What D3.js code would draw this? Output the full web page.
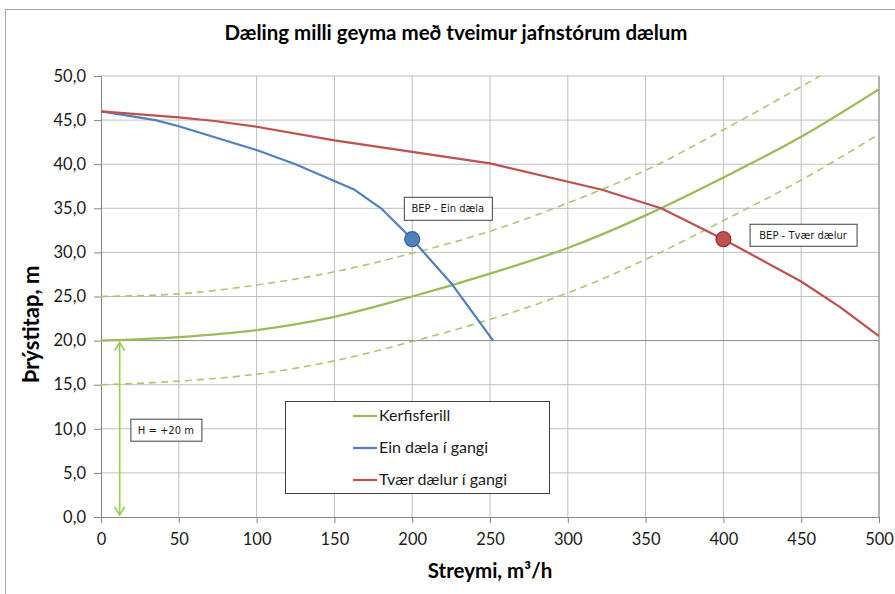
<!DOCTYPE html>
<html>
<head>
<meta charset="utf-8">
<script src="https://cdn.jsdelivr.net/npm/d3@7"></script>
<style>
  html, body { margin: 0; padding: 0; background: #fff; }
  svg { display: block; font-family: Lato, "Open Sans", sans-serif; }
</style>
</head>
<body>
<svg id="chart" width="895" height="594"></svg>
<script>
// Kerfisferill (system curve) with its +/- 5 m band, read at every 50 m3/h
const flowGrid = [0, 50, 100, 150, 200, 250, 300, 350, 400, 450, 500];
const kerfisferill = [20, 20.4, 21.2, 22.7, 25.0, 27.6, 30.5, 34.2, 38.5, 43.1, 48.5];
const kerfisEfri  = [25, 25.3, 26.3, 27.8, 29.9, 32.4, 35.6, 39.3, 43.9, 48.8, 53.8];
const kerfisNedri = [15, 15.4, 16.2, 17.7, 19.9, 22.4, 25.4, 29.2, 33.6, 38.2, 43.4];

// Pump curves
const einQ = [0, 35, 50, 100, 125, 150, 163, 180, 200, 226, 252];
const einH = [46, 45, 44.3, 41.6, 40, 38.1, 37.1, 35, 31.5, 26.3, 20];
const tvaerQ = [0, 50, 73, 100, 150, 200, 250, 322, 360, 400, 450, 475, 500];
const tvaerH = [46, 45.3, 44.9, 44.25, 42.7, 41.4, 40.1, 37.1, 35, 31.5, 26.7, 23.8, 20.5];

// Best efficiency points
const bepEin = { q: 200, h: 31.5, label: "BEP - Ein dæla" };
const bepTvaer = { q: 400, h: 31.5, label: "BEP - Tvær dælur" };

// Static head annotation
const stodhaed = { q: 12, from: 20, to: 0, label: "H = +20 m" };

const xTicks = [0, 50, 100, 150, 200, 250, 300, 350, 400, 450, 500];
const yTicks = [0, 5, 10, 15, 20, 25, 30, 35, 40, 45, 50];

const legendItems = ["Kerfisferill", "Ein dæla í gangi", "Tvær dælur í gangi"];
const colors = { kerfi: "#9bbb59", kerfiDash: "#a9c873", ein: "#4f81bd", tvaer: "#c0504d", arrow: "#92d050" };

const svg = d3.select("#chart");
const W = 895, H = 594;
const plot = { left: 101, right: 879, top: 76, bottom: 517 };

const x = d3.scaleLinear().domain([0, 500]).range([plot.left, plot.right]);
const y = d3.scaleLinear().domain([0, 50]).range([plot.bottom, plot.top]);

// outer chart frame
svg.append("rect").attr("x", 5.5).attr("y", 9.5).attr("width", W + 10).attr("height", H + 10)
  .attr("fill", "none").attr("stroke", "#a6a6a6");

// title
svg.append("text").attr("x", 456).attr("y", 40).attr("text-anchor", "middle")
  .attr("font-size", 20.5).attr("font-weight", "bold").attr("fill", "#000")
  .text("Dæling milli geyma með tveimur jafnstórum dælum");

// gridlines
const grid = svg.append("g");
grid.selectAll("line.v").data(xTicks.slice(1)).join("line")
  .attr("x1", d => x(d)).attr("x2", d => x(d)).attr("y1", plot.top).attr("y2", plot.bottom)
  .attr("stroke", "#bfbfbf").attr("stroke-width", 1);
grid.selectAll("line.h").data(yTicks.slice(1)).join("line")
  .attr("x1", plot.left).attr("x2", plot.right).attr("y1", d => y(d)).attr("y2", d => y(d))
  .attr("stroke", d => d === 20 ? "#8c8c8c" : "#bfbfbf").attr("stroke-width", 1);

// axes
const fmtY = d => d3.format(".1f")(d).replace(".", ",");
const yAxis = svg.append("g").attr("transform", `translate(${plot.left},0)`)
  .call(d3.axisLeft(y).tickValues(yTicks).tickFormat(fmtY).tickSizeOuter(0).tickSize(7).tickPadding(8));
const xAxis = svg.append("g").attr("transform", `translate(0,${plot.bottom})`)
  .call(d3.axisBottom(x).tickValues(xTicks).tickSizeOuter(0).tickSize(6).tickPadding(10));
[yAxis, xAxis].forEach(a => {
  a.select(".domain").attr("stroke", "#868686");
  a.selectAll(".tick line").attr("stroke", "#868686");
  a.selectAll(".tick text").attr("font-size", 16.5).attr("fill", "#1a1a1a")
    .attr("font-family", "Lato, sans-serif");
});

// right plot border
svg.append("line").attr("x1", plot.right).attr("x2", plot.right).attr("y1", plot.top).attr("y2", plot.bottom)
  .attr("stroke", "#868686");

// axis titles
svg.append("text").attr("x", 490).attr("y", 578).attr("text-anchor", "middle")
  .attr("font-size", 20.5).attr("font-weight", "bold")
  .text("Streymi, m³/h");
svg.append("text").attr("transform", `translate(39,${(plot.top + plot.bottom) / 2 + 28}) rotate(-90)`)
  .attr("text-anchor", "middle").attr("font-size", 22).attr("font-weight", "bold")
  .text("Þrýstitap, m");

// clip for series
svg.append("clipPath").attr("id", "plotClip").append("rect")
  .attr("x", plot.left).attr("y", plot.top).attr("width", plot.right - plot.left).attr("height", plot.bottom - plot.top);

const line = d3.line().x(d => x(d[0])).y(d => y(d[1]));
const smooth = d3.line().x(d => x(d[0])).y(d => y(d[1])).curve(d3.curveMonotoneX);
const series = svg.append("g").attr("clip-path", "url(#plotClip)");

const zipQ = (qs, hs) => qs.map((q, i) => [q, hs[i]]);

series.append("path").datum(zipQ(flowGrid, kerfisEfri)).attr("d", smooth)
  .attr("fill", "none").attr("stroke", colors.kerfiDash).attr("stroke-width", 1.6).attr("stroke-dasharray", "7,5");
series.append("path").datum(zipQ(flowGrid, kerfisNedri)).attr("d", smooth)
  .attr("fill", "none").attr("stroke", colors.kerfiDash).attr("stroke-width", 1.6).attr("stroke-dasharray", "7,5");
series.append("path").datum(zipQ(flowGrid, kerfisferill)).attr("d", smooth)
  .attr("fill", "none").attr("stroke", colors.kerfi).attr("stroke-width", 2.3);
series.append("path").datum(zipQ(einQ, einH)).attr("d", line)
  .attr("fill", "none").attr("stroke", colors.ein).attr("stroke-width", 2.2).attr("stroke-linejoin", "round");
series.append("path").datum(zipQ(tvaerQ, tvaerH)).attr("d", line)
  .attr("fill", "none").attr("stroke", colors.tvaer).attr("stroke-width", 2.2).attr("stroke-linejoin", "round");

// BEP markers
[[bepEin, colors.ein, "#37608f"], [bepTvaer, colors.tvaer, "#8f3532"]].forEach(([p, fill, stroke]) => {
  svg.append("circle").attr("cx", x(p.q)).attr("cy", y(p.h)).attr("r", 7.5)
    .attr("fill", fill).attr("stroke", stroke).attr("stroke-width", 1.2);
});

// boxed annotation labels
function boxLabel(cx, cy, text, w, h) {
  const g = svg.append("g");
  g.append("rect").attr("x", cx - w / 2 + 0.5).attr("y", cy - h / 2 + 0.5).attr("width", w).attr("height", h)
    .attr("fill", "#fff").attr("stroke", "#404040").attr("stroke-width", 1);
  g.append("text").attr("x", cx).attr("y", cy + 4).attr("text-anchor", "middle")
    .attr("font-family", "'DejaVu Sans', Verdana, sans-serif").attr("font-size", 10).attr("fill", "#1a1a1a")
    .text(text);
}
boxLabel(x(bepEin.q + 22.9), y(bepEin.h + 3.5), bepEin.label, 88, 23);
boxLabel(x(bepTvaer.q + 51.2), y(bepTvaer.h + 0.5), bepTvaer.label, 107, 22);

// static head arrow
const ax = x(stodhaed.q), aTop = y(stodhaed.from) + 2, aBot = y(stodhaed.to) - 2;
const arrow = svg.append("g").attr("stroke", colors.arrow).attr("stroke-width", 1.6).attr("fill", "none");
arrow.append("line").attr("x1", ax).attr("x2", ax).attr("y1", aTop).attr("y2", aBot);
arrow.append("path").attr("d", `M${ax - 5},${aTop + 8} L${ax},${aTop} L${ax + 5},${aTop + 8}`);
arrow.append("path").attr("d", `M${ax - 5},${aBot - 8} L${ax},${aBot} L${ax + 5},${aBot - 8}`);
boxLabel(x(41.7), y(9.9), stodhaed.label, 71, 22);

// legend
const lg = svg.append("g");
lg.append("rect").attr("x", 285.5).attr("y", 401.5).attr("width", 264).attr("height", 92)
  .attr("fill", "#fff").attr("stroke", "#404040");
const legendColors = [colors.kerfi, colors.ein, colors.tvaer];
legendItems.forEach((t, i) => {
  const ly = 416 + i * 32;
  lg.append("line").attr("x1", 353).attr("x2", 377).attr("y1", ly).attr("y2", ly)
    .attr("stroke", legendColors[i]).attr("stroke-width", 2.2);
  lg.append("text").attr("x", 379).attr("y", ly + 5).attr("font-size", 16).attr("fill", "#1a1a1a").text(t);
});
</script>
</body>
</html>
